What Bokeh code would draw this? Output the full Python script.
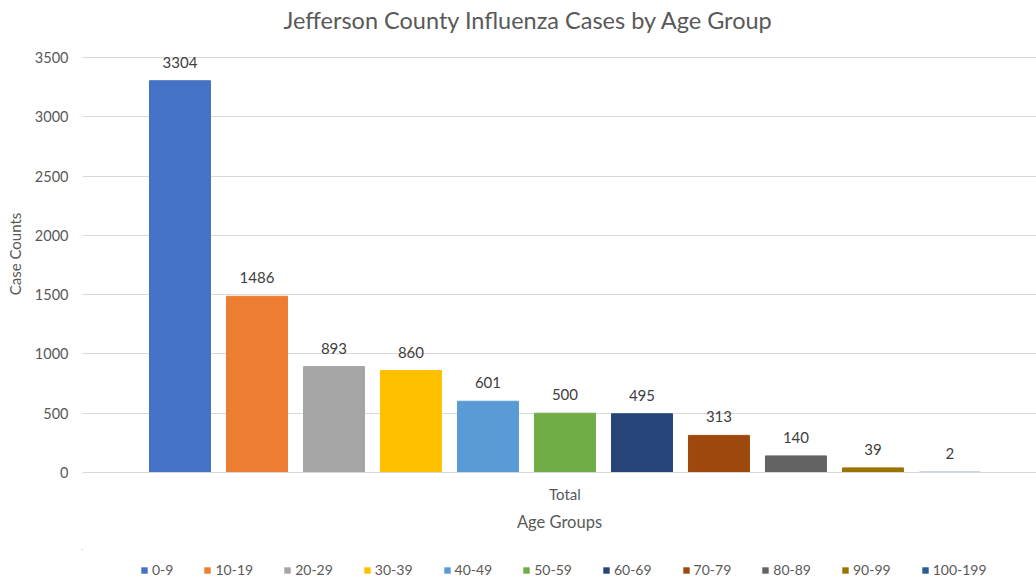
from bokeh.plotting import figure
from bokeh.models import ColumnDataSource, FixedTicker, Legend, LegendItem, Range1d
from bokeh.layouts import column
from bokeh.embed import file_html
from bokeh.resources import INLINE

groups = ["0-9", "10-19", "20-29", "30-39", "40-49", "50-59", "60-69", "70-79", "80-89", "90-99", "100-199"]
cases = [3304, 1486, 893, 860, 601, 500, 495, 313, 140, 39, 2]
colors = ["#4472C4", "#ED7D31", "#A5A5A5", "#FFC000", "#5B9BD5", "#70AD47",
          "#264478", "#9E480E", "#636363", "#997300", "#255E91"]
category_label = "Total"
y_ticks = [0, 500, 1000, 1500, 2000, 2500, 3000, 3500]

FONT = "Lato"
GRAY = "#595959"

src = ColumnDataSource(dict(x=list(range(len(groups))), top=cases, color=colors,
                            group=groups, label=[str(c) for c in cases]))

# frame top at 35px; top of range chosen so that 3500 sits at 57px
Y_TOP = 3500 + 22 * 3500 / 415

p = figure(width=1036, height=549, output_backend="svg", toolbar_location=None,
           x_range=Range1d(-1.266, 11.124), y_range=Range1d(0, Y_TOP),
           min_border_left=82, min_border_right=0, min_border_top=35, min_border_bottom=77,
           title="Jefferson County Influenza Cases by Age Group")
p.outline_line_color = None

p.title.align = "left"
p.title.offset = 201
p.title.standoff = 4
p.title.text_font = FONT
p.title.text_font_style = "normal"
p.title.text_font_size = "23.5px"
p.title.text_color = GRAY

r = p.vbar(x="x", top="top", width=0.792, color="color", source=src)
p.text(x="x", y="top", text="label", source=src, text_align="center", text_baseline="bottom",
       y_offset=-13, text_font_size="15px", text_color="#404040", text_font={"value": FONT})

# y axis
p.yaxis.ticker = FixedTicker(ticks=y_ticks)
p.yaxis.axis_line_color = None
p.yaxis.major_tick_line_color = None
p.yaxis.major_tick_out = 0
p.yaxis.minor_tick_line_color = None
p.yaxis.minor_tick_out = 0
p.yaxis.major_label_standoff = 14
p.yaxis.major_label_text_font = FONT
p.yaxis.major_label_text_font_size = "14.5px"
p.yaxis.major_label_text_color = GRAY
p.yaxis.axis_label = "Case Counts"
p.yaxis.axis_label_text_font = FONT
p.yaxis.axis_label_text_font_style = "normal"
p.yaxis.axis_label_text_font_size = "15px"
p.yaxis.axis_label_text_color = GRAY
p.yaxis.axis_label_standoff = 8

# x axis
p.xaxis.ticker = FixedTicker(ticks=[5])
p.xaxis.major_label_overrides = {5: category_label}
p.xaxis.axis_line_color = "#D9D9D9"
p.xaxis.major_tick_line_color = None
p.xaxis.major_tick_out = 0
p.xaxis.minor_tick_line_color = None
p.xaxis.minor_tick_out = 0
p.xaxis.major_label_standoff = 12
p.xaxis.major_label_text_font = FONT
p.xaxis.major_label_text_font_size = "15px"
p.xaxis.major_label_text_color = GRAY
p.xaxis.axis_label = "Age Groups"
p.xaxis.axis_label_text_font = FONT
p.xaxis.axis_label_text_font_style = "normal"
p.xaxis.axis_label_text_font_size = "16.5px"
p.xaxis.axis_label_text_color = GRAY
p.xaxis.axis_label_standoff = 6

p.xgrid.grid_line_color = None
p.ygrid.grid_line_color = "#D9D9D9"

# legend strip below the chart (its bars lie outside its visible ranges)
lf = figure(width=1036, height=30, output_backend="svg", toolbar_location=None,
            x_range=Range1d(100, 101), y_range=Range1d(-20000, -10000),
            x_axis_type=None, y_axis_type=None,
            min_border_left=0, min_border_right=0, min_border_top=0, min_border_bottom=0)
lf.outline_line_color = None
lr = lf.vbar(x="x", top="top", width=0.792, fill_color="color", line_color=None, source=src)

items = [LegendItem(label=g, renderers=[lr], index=i) for i, g in enumerate(groups)]
legend = Legend(items=items, orientation="horizontal", location=(58, 1),
                glyph_width=8, glyph_height=8, label_standoff=4, spacing=30,
                padding=0, margin=0, border_line_color=None, background_fill_alpha=0,
                label_text_font=FONT, label_text_font_size="14px", label_text_color=GRAY,
                label_height=16)
lf.add_layout(legend, "center")

layout = column(p, lf, spacing=0)
open("out.html", "w").write(file_html(layout, INLINE))
